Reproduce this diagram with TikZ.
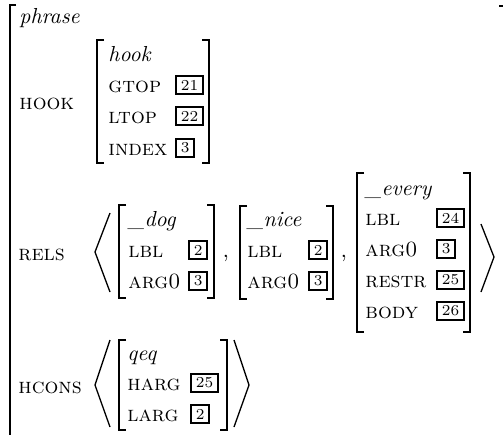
\documentclass[tikz,border=0pt]{standalone}
\usepackage{tikz}

\tikzset{
  feat/.style={anchor=base west, inner sep=0pt, font=\scshape},
  typ/.style={anchor=base west, inner sep=0pt, font=\itshape},
  tagbox/.style={anchor=west, draw, line width=1pt, inner xsep=2.2pt, inner ysep=1.7pt, font=\scriptsize},
  brk/.style={line width=0.6pt},
}

\begin{document}
\begin{tikzpicture}[x=0.46pt,y=-0.46pt]
\useasboundingbox (0,0) rectangle (503,434);
%固定画布大小(503x434),y轴向下
\draw[brk] (16,5) -- (10,5) -- (10,440);
\draw[brk] (499,6) -- (504,6);
%最外层的方括号(左侧竖线和右上角的短横)
\node[typ] (phrase) at (19,23) {phrase};
\node[feat] (hookL) at (19,109) {hook};
\node[feat] (relsL) at (18,260) {rels};
\node[feat] (hconsL) at (18,393) {hcons};
%外层的类型(phrase)和三个属性名
\foreach \l/\r/\t/\b in {97/209/40/163, 119/214/205/298, 240/333/206/299, 357/470/173/332, 119/227/340/430}
  {\draw[brk] ({\l+7},\t) -- (\l,\t) -- (\l,\b) -- ({\l+7},\b);
   \draw[brk] ({\r-7},\t) -- (\r,\t) -- (\r,\b) -- ({\r-7},\b);}
%五个内层矩阵的方括号:左(\l),右(\r),上(\t),下(\b)
\draw[brk] (110,213) -- (95,252) -- (110,292);
\draw[brk] (481,224) -- (494,257) -- (481,292);
%RELS列表的尖括号
\draw[brk] (110,340) -- (95,385) -- (110,427);
\draw[brk] (234,340) -- (249,385) -- (234,427);
%HCONS列表的尖括号
\node[anchor=base, inner sep=0pt] (comma1) at (226,257) {,};
\node[anchor=base, inner sep=0pt] (comma2) at (344,257) {,};
%列表元素之间的逗号
\node[typ] (hook) at (108,61) {hook};
\foreach \y/\f/\v in {92/gtop/21, 123/ltop/22, 155/index/3}
  {\node[feat] (hook-\f) at (108,\y) {\f}; \node[tagbox] (hook-\f-v) at (175,{\y-7}) {\v};}
%hook矩阵:属性名在x=108,带框的标号在x=175
\node[typ] (dog) at (128,226) {\_dog};
\foreach \y/\f/\v in {257/lbl/2, 288/arg0/3}
  {\node[feat] (dog-\f) at (128,\y) {\f}; \node[tagbox] (dog-\f-v) at (188,{\y-7}) {\v};}
%_dog矩阵
\node[typ] (nice) at (247,226) {\_nice};
\foreach \y/\f/\v in {257/lbl/2, 288/arg0/3}
  {\node[feat] (nice-\f) at (247,\y) {\f}; \node[tagbox] (nice-\f-v) at (308,{\y-7}) {\v};}
%_nice矩阵
\node[typ] (every) at (365,195) {\_every};
\foreach \y/\f/\v in {225/lbl/24, 256/arg0/3, 287/restr/25, 318/body/26}
  {\node[feat] (every-\f) at (365,\y) {\f}; \node[tagbox] (every-\f-v) at (436,{\y-7}) {\v};}
%_every矩阵
\node[typ] (qeq) at (127,360) {qeq};
\foreach \y/\f/\v in {390/harg/25, 421/larg/2}
  {\node[feat] (qeq-\f) at (127,\y) {\f}; \node[tagbox] (qeq-\f-v) at (190,{\y-7}) {\v};}
%qeq矩阵
\end{tikzpicture}
\end{document}
